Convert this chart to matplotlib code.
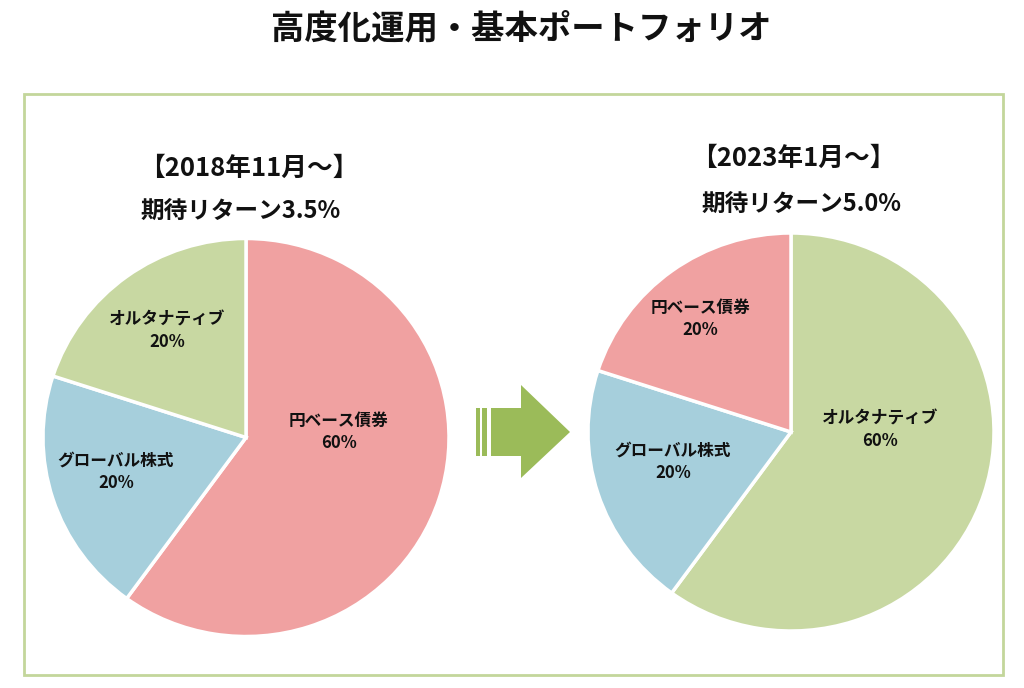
import matplotlib
matplotlib.use("Agg")
import matplotlib.pyplot as plt
from matplotlib.patches import Rectangle, Polygon

plt.rcParams['font.family'] = ['Noto Sans CJK JP', 'DejaVu Sans']

title = "高度化運用・基本ポートフォリオ"
left_header = ["【2018年11月～】", "期待リターン3.5%"]
right_header = ["【2023年1月～】", "期待リターン5.0%"]

left_labels = ["円ベース債券", "グローバル株式", "オルタナティブ"]
left_values = [60, 20, 20]
right_labels = ["オルタナティブ", "グローバル株式", "円ベース債券"]
right_values = [60, 20, 20]

colors_map = {"円ベース債券": "#F0A1A1", "グローバル株式": "#A6CFDC", "オルタナティブ": "#C8D8A2"}

W, H = 1024, 688
fig = plt.figure(figsize=(W / 100, H / 100), dpi=100)


def Y(y):
    return H - y


def pie_axes(labels, values, cx, cy, rx, ry):
    pax = fig.add_axes([(cx - rx) / W, (H - cy - ry) / H, 2 * rx / W, 2 * ry / H])
    cols = [colors_map[l] for l in labels]
    pax.pie(values, colors=cols, startangle=90, counterclock=False,
            radius=1, wedgeprops=dict(edgecolor="white", linewidth=2.5))
    pax.set_xlim(-1, 1)
    pax.set_ylim(-1, 1)
    pax.set_aspect("auto")
    pax.axis("off")
    return pax


pie_axes(left_labels, left_values, 246, 437.5, 203, 199)
pie_axes(right_labels, right_values, 791, 432, 203, 199)

ax = fig.add_axes([0, 0, 1, 1])
ax.patch.set_alpha(0)
ax.set_xlim(0, W)
ax.set_ylim(0, H)
ax.axis("off")

# frame box
ax.add_patch(Rectangle((24, Y(675)), 979, 581, fill=False, edgecolor="#C3D69B", lw=2))


def labels_for(labels, values, positions):
    for lab, val, (x, y) in zip(labels, values, positions):
        ax.text(x, Y(y), f"{lab}\n{val}%", ha="center", va="center",
                fontsize=12, fontweight="bold", color="#111111", linespacing=1.35)


labels_for(left_labels, left_values, [(339, 432), (116, 472), (167, 331)])
labels_for(right_labels, right_values, [(880, 430), (673, 462), (700, 319)])

# headers
ax.text(249, Y(168), left_header[0], ha="center", va="center", fontsize=18.5, fontweight="bold", color="#111111")
ax.text(241, Y(212), left_header[1], ha="center", va="center", fontsize=17, fontweight="bold", color="#111111")
ax.text(793, Y(158), right_header[0], ha="center", va="center", fontsize=18.5, fontweight="bold", color="#111111")
ax.text(801, Y(205), right_header[1], ha="center", va="center", fontsize=17, fontweight="bold", color="#111111")

# title
ax.text(521, Y(29), title, ha="center", va="center", fontsize=24, fontweight="bold", color="#111111")

# arrow
green = "#9BBB59"
ax.add_patch(Rectangle((476, Y(456)), 4, 48, color=green, lw=0))
ax.add_patch(Rectangle((482, Y(456)), 5, 48, color=green, lw=0))
ax.add_patch(Polygon([(491, Y(408)), (521, Y(408)), (521, Y(385)), (570, Y(432)),
                      (521, Y(478)), (521, Y(456)), (491, Y(456))], closed=True, color=green, lw=0))

fig.savefig("out.png", dpi=100)
